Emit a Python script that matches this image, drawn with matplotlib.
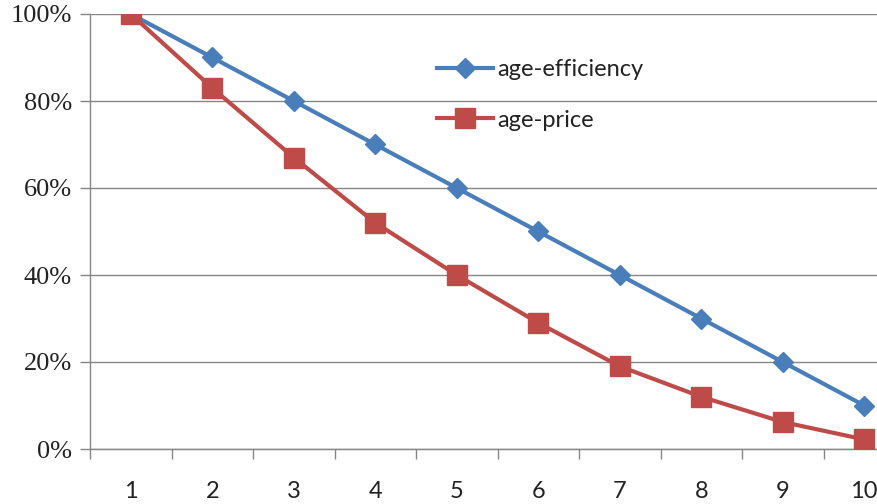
import matplotlib
matplotlib.use("Agg")
import matplotlib.pyplot as plt
from matplotlib.ticker import FixedLocator, FuncFormatter

# Data
ages = [1, 2, 3, 4, 5, 6, 7, 8, 9, 10]
age_efficiency = [100, 90, 80, 70, 60, 50, 40, 30, 20, 10]
age_price = [100, 83, 67, 52, 40, 29, 19, 12, 6.2, 2.2]
y_ticks = [0, 20, 40, 60, 80, 100]
series_labels = ["age-efficiency", "age-price"]

W, H = 877, 504
fig = plt.figure(figsize=(W / 100, H / 100), dpi=100)
# plot area spans beyond the right edge of the canvas
left, right, top, bottom = 90, 905, 14, 449
ax = fig.add_axes([left / W, 1 - bottom / H, (right - left) / W, (bottom - top) / H])

blue = "#4A7EBB"
red = "#BE4B48"
grid_c = "#868686"

ax.plot(ages, age_efficiency, color=blue, lw=3.0, marker="D", ms=10.5,
        mec=blue, mfc=blue, label=series_labels[0], zorder=3)
ax.plot(ages, age_price, color=red, lw=3.0, marker="s", ms=14,
        mec=red, mfc=red, label=series_labels[1], zorder=4)

ax.set_xlim(0.5, 10.5)
ax.set_ylim(0, 100)
ax.set_yticks(y_ticks)
ax.yaxis.set_major_formatter(FuncFormatter(lambda v, p: f"{int(v)}%"))
ax.set_xticks(ages)
ax.set_xticklabels([str(a) for a in ages])
ax.xaxis.set_minor_locator(FixedLocator([a + 0.5 for a in [0] + ages]))
ax.tick_params(axis="x", which="major", length=0, pad=23, labelsize=17)
ax.tick_params(axis="x", which="minor", length=7, width=1, color=grid_c, direction="out")
ax.tick_params(axis="y", length=7, width=1, color=grid_c, direction="out", pad=6)
for lab in ax.get_xticklabels():
    lab.set_fontfamily("Lato")
    lab.set_color("#222222")
for lab in ax.get_yticklabels():
    lab.set_fontfamily("Liberation Serif")
    lab.set_fontsize(19)
    lab.set_color("#222222")

ax.grid(axis="y", color=grid_c, lw=1)
ax.set_axisbelow(True)
for s in ["top", "right"]:
    ax.spines[s].set_visible(False)
for s in ["left", "bottom"]:
    ax.spines[s].set_color(grid_c)
    ax.spines[s].set_linewidth(1)

leg = ax.legend(loc="upper left", bbox_to_anchor=(0.40, 0.945), frameon=False,
                handlelength=2.35, handletextpad=0.2, labelspacing=1.25,
                prop={"family": "Lato", "size": 17})
for t in leg.get_texts():
    t.set_color("#222222")

fig.savefig("out.png", dpi=100)
